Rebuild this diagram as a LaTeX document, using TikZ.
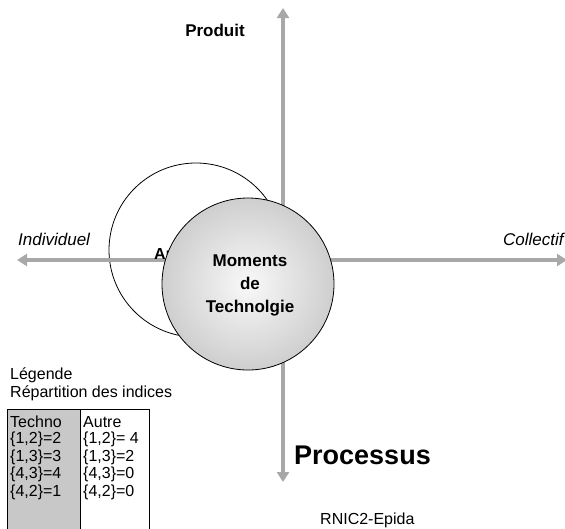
\documentclass[tikz,border=0pt]{standalone}
\usepackage{fontspec}
\setmainfont{Liberation Sans}
\usetikzlibrary{arrows.meta}
\definecolor{axisgray}{HTML}{A8A8A8}
\definecolor{cellgray}{HTML}{C8C8C8}
\tikzset{
  axisline/.style={draw=axisgray, line width=4pt, -{Triangle[width=12pt,length=10pt]}},
  lbl/.style={inner sep=0pt, font=\fontsize{16}{18}\selectfont},
  boldlbl/.style={inner sep=0pt, font=\fontsize{17}{23}\selectfont\bfseries, align=center},
  itlbl/.style={inner sep=0pt, font=\fontsize{17}{20}\selectfont\itshape},
  cell/.style={inner sep=0pt, anchor=west, font=\fontsize{16}{18}\selectfont},
}
\begin{document}
\begin{tikzpicture}[x=1pt,y=-1pt]
\useasboundingbox (0,0) rectangle (565,528);
\clip (0,0) rectangle (565,528);
% white circle (outline only)
\node[circle, draw=black, line width=0.8pt, minimum size=174pt, inner sep=0pt] (autre) at (196,250) {};
% axes
\coordinate (ytop) at (283,8);
\coordinate (ybot) at (283,482);
\coordinate (xleft) at (17,260);
\coordinate (xright) at (567,260);
\coordinate (center) at (283,260);
\draw[axisline] (center) -- (ytop);
\draw[axisline] (center) -- (ybot);
\draw[axisline] (center) -- (xleft);
\draw[axisline] (center) -- (xright);
% hidden label
\node[boldlbl, anchor=west, font=\fontsize{16}{18}\selectfont\bfseries] (autrelbl) at (154,254) {Autre};
% grey circle
\node[circle, draw=black, line width=0.8pt, minimum size=172pt, inner sep=0pt,
      inner color=gray!5, outer color=gray!38] (techno) at (248,284) {};
\node[boldlbl] (moments) at (250,285) {Moments\\de\\Technolgie};
% axis labels
\node[boldlbl] (produit) at (215,30) {Produit};
\node[itlbl, anchor=west] (indiv) at (18,239) {Individuel};
\node[itlbl, anchor=west] (collectif) at (503,239) {Collectif};
\node[inner sep=0pt, anchor=west, font=\fontsize{27}{30}\selectfont\bfseries] (processus) at (294,455) {Processus};
\node[lbl, anchor=west] (rnic) at (320,520) {RNIC2-Epida};
% legend
\node[lbl, anchor=west] (legende) at (10,375) {Légende};
\node[lbl, anchor=west] (repart) at (10,393) {Répartition des indices};
\draw[fill=cellgray, line width=0.8pt] (7,409) rectangle (80,540);
\draw[fill=white, line width=0.8pt] (80,409) rectangle (149,540);
\node[cell] (t0) at (10,422) {Techno};
\node[cell] (t1) at (10,439.5) {\{1,2\}=2};
\node[cell] (t2) at (10,457) {\{1,3\}=3};
\node[cell] (t3) at (10,474.5) {\{4,3\}=4};
\node[cell] (t4) at (10,492) {\{4,2\}=1};
\node[cell] (a0) at (83,422) {Autre};
\node[cell] (a1) at (83,439.5) {\{1,2\}= 4};
\node[cell] (a2) at (83,457) {\{1,3\}=2};
\node[cell] (a3) at (83,474.5) {\{4,3\}=0};
\node[cell] (a4) at (83,492) {\{4,2\}=0};
\end{tikzpicture}
\end{document}
